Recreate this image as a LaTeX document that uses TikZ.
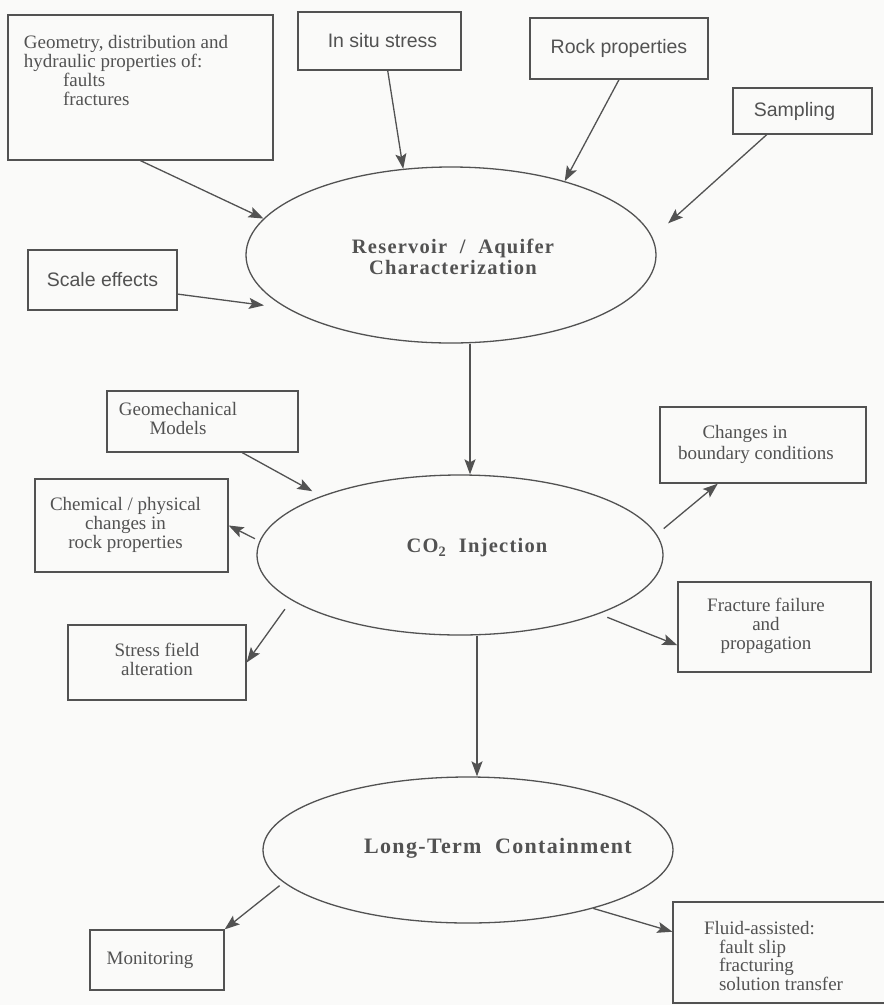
\documentclass[tikz,border=0pt]{standalone}
\usepackage{fontspec}
\setmainfont{Liberation Serif}
\setsansfont{Liberation Sans}
\newfontfamily\elfont[LetterSpace=6]{Liberation Serif}
\usetikzlibrary{shapes.geometric,arrows.meta,calc}
\definecolor{ink}{RGB}{82,82,82}
\definecolor{paper}{RGB}{250,250,249}
\begin{document}
\begin{tikzpicture}[x=1pt,y=-1pt,
  box/.style={draw=ink, line width=1.3pt, text=ink, rectangle, inner sep=0pt,
    font=\fontsize{19}{19}\selectfont},
  sbox/.style={box, font=\sffamily\fontsize{19.5}{21}\selectfont},
  oval/.style={draw=ink, line width=1.3pt, ellipse, inner sep=0pt},
  otext/.style={text=ink, align=center, inner sep=0pt,
    font=\elfont\bfseries\fontsize{20.5}{21}\selectfont},
  arr/.style={draw=ink, line width=1.3pt, -{Stealth[length=15pt,width=11pt,inset=3pt]}}
]
\fill[paper] (0,0) rectangle (884,1005);
\useasboundingbox (0,0) rectangle (884,1005);
\clip (0,0) rectangle (884,1005);

% ellipses
\node[oval, minimum width=410pt, minimum height=176pt,
  label={[otext, name=resl, xshift=2pt, yshift=-2pt]center:Reservoir\ \ /\ \ Aquifer\\Characterization}]
  (res) at (451,255) {};
\node[oval, minimum width=406pt, minimum height=160pt,
  label={[otext, name=co2l, xshift=17pt, yshift=7pt]center:CO\textsubscript{2}\ \ Injection}]
  (co2) at (460,555) {};
\node[oval, minimum width=410pt, minimum height=146pt,
  label={[otext, name=ltl, xshift=30pt, yshift=2pt, font=\elfont\bfseries\fontsize{22}{22}\selectfont]center:Long-Term\ \ Containment}]
  (lt) at (468,850) {};

% input boxes
\node[box, minimum width=265pt, minimum height=145pt] (geo) at (140.5,87.5)
  {\begin{minipage}[c][145pt][t]{265pt}\raggedright\leftskip=16pt
   \vspace*{20pt}Geometry, distribution and\\
   hydraulic properties of:\\
   \hspace*{39pt}faults\\
   \hspace*{39pt}fractures\end{minipage}};
\node[sbox, minimum width=163pt, minimum height=58pt] (ins) at (379.5,41) {In situ stress\hspace*{-6pt}};
\node[sbox, minimum width=178pt, minimum height=61pt] (rock) at (619,48.5) {Rock properties};
\node[sbox, minimum width=139pt, minimum height=46pt] (samp) at (802.5,111) {Sampling\hspace*{16pt}};
\node[sbox, minimum width=149pt, minimum height=60pt] (scale) at (102.5,280) {Scale effects};

% CO2 boxes
\node[box, minimum width=191pt, minimum height=61pt] (gm) at (202.5,421.5)
  {\begin{tabular}{@{}c@{}}Geomechanical\\Models\end{tabular}\hspace*{49pt}};
\node[box, minimum width=193pt, minimum height=93pt] (chem) at (131.5,525.5)
  {\begin{tabular}{@{}c@{}}Chemical / physical\\changes in\\rock properties\end{tabular}\hspace*{12pt}};
\node[box, minimum width=178pt, minimum height=75pt] (sf) at (157,662.5)
  {\begin{tabular}{@{}c@{}}Stress field\\alteration\end{tabular}};
\node[box, minimum width=206pt, minimum height=76pt, font=\fontsize{19}{21}\selectfont] (cb) at (763,445)
  {\begin{tabular}{@{}c@{}}Changes in\hspace*{22pt}\\boundary conditions\end{tabular}\hspace*{14pt}};
\node[box, minimum width=193pt, minimum height=90pt] (ff) at (774.5,627)
  {\begin{tabular}{@{}c@{}}Fracture failure\\and\\propagation\end{tabular}\hspace*{17pt}};

% containment boxes
\node[box, minimum width=134pt, minimum height=60pt] (mon) at (157,960) {Monitoring\hspace*{14pt}};
\node[box, minimum width=217pt, minimum height=101pt, font=\fontsize{19}{18.5}\selectfont] (fl) at (781.5,952.5)
  {\begin{minipage}[c][101pt][t]{217pt}\raggedright\leftskip=31pt
   \vspace*{19.5pt}Fluid-assisted:\\
   \hspace*{15pt}fault slip\\
   \hspace*{15pt}fracturing\\
   \hspace*{15pt}solution transfer\end{minipage}};

% connectors into reservoir
\draw[arr] (geo.south) -- (res.169);
\draw[arr] ($(ins.south west)!0.55!(ins.south east)$) -- (res.119.5);
\draw[arr] (rock.south) -- (res.33);
\draw[arr, shorten >=21pt] ($(samp.south west)!0.245!(samp.south east)$) -- (res.5);
\draw[arr, shorten >=23pt] ($(scale.north east)!0.73!(scale.south east)$) -- (res.198);

% reservoir to injection
\draw[arr] ($(res.south)+(19,0)$) -- ($(co2.north)+(10,0)$);

% around injection
\draw[arr, shorten >=10pt] ($(gm.south west)!0.707!(gm.south east)$) -- (co2.157);
\draw[arr, shorten <=5pt] (co2.176) -- (chem.east);
\draw[arr, shorten <=11pt] (co2.195) -- (sf.east);
\draw[arr, shorten <=9pt] (co2.6) -- ($(cb.south west)!0.282!(cb.south east)$);
\draw[arr, shorten <=9pt] (co2.-23) -- ($(ff.north west)!0.7!(ff.south west)$);

% injection to containment
\draw[arr] ($(co2.south)+(17,0)$) -- ($(lt.north)+(9,0)$);

% containment outputs
\draw[arr, shorten <=5pt] (lt.190) -- (mon.north east);
\draw[arr] (lt.-25) -- ($(fl.north west)!0.297!(fl.south west)$);
\end{tikzpicture}
\end{document}
